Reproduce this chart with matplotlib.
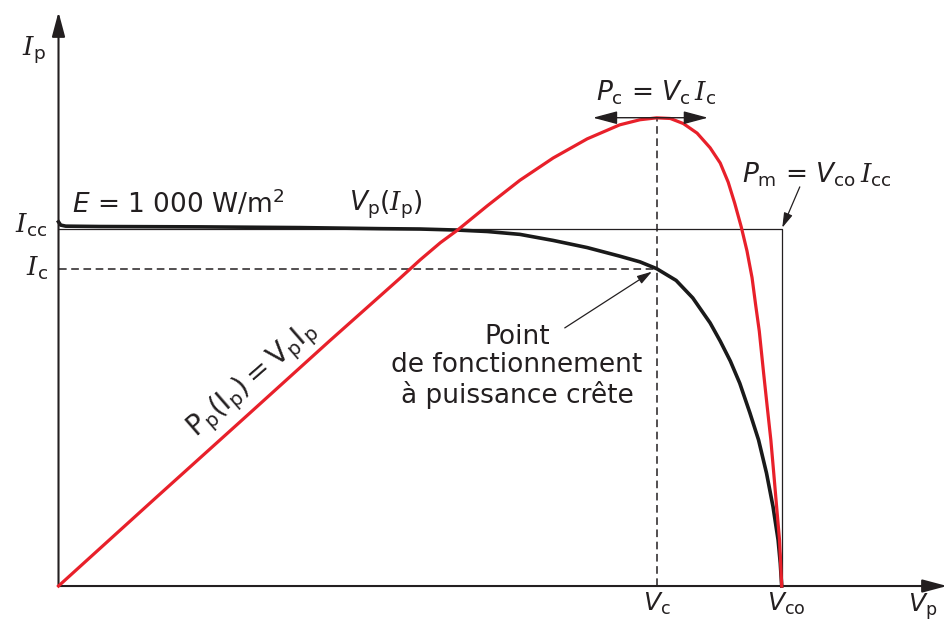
import matplotlib.pyplot as plt

plt.rcParams['font.family'] = ['DejaVu Sans']
plt.rcParams['mathtext.fontset'] = 'custom'
plt.rcParams['mathtext.rm'] = 'DejaVu Sans'
plt.rcParams['mathtext.it'] = 'DejaVu Sans:italic'
plt.rcParams['mathtext.cal'] = 'DejaVu Serif:italic'

# caractéristique I(V), normalisée (V/Vco, I/Icc)
volt_iv = [0.0, 0.003, 0.010, 0.057, 0.196, 0.334, 0.445, 0.500, 0.552, 0.593,
           0.638, 0.684, 0.731, 0.776, 0.804, 0.827, 0.854, 0.877, 0.901, 0.915,
           0.929, 0.942, 0.956, 0.968, 0.979, 0.988, 0.995, 0.998, 1.0]
curr_iv = [1.020, 1.011, 1.008, 1.007, 1.006, 1.004, 1.001, 1.000, 0.997, 0.993,
           0.985, 0.968, 0.948, 0.924, 0.908, 0.889, 0.856, 0.807, 0.737, 0.686,
           0.630, 0.568, 0.485, 0.409, 0.316, 0.222, 0.129, 0.064, 0.0]

# puissance P = V.I, normalisée par Pm = Vco.Icc
volt_p = [0.0, 0.136, 0.265, 0.375, 0.472, 0.500, 0.528, 0.552, 0.593, 0.638,
          0.684, 0.731, 0.776, 0.804, 0.827, 0.846, 0.864, 0.883, 0.901, 0.915,
          0.926, 0.935, 0.944, 0.952, 0.959, 0.964, 0.969, 0.975, 0.980, 0.985,
          0.989, 0.993, 0.997, 1.0]
power = [0.0, 0.140, 0.272, 0.385, 0.483, 0.512, 0.539, 0.559, 0.597, 0.637,
         0.672, 0.702, 0.724, 0.732, 0.735, 0.734, 0.726, 0.711, 0.688, 0.664,
         0.634, 0.601, 0.564, 0.526, 0.484, 0.441, 0.400, 0.334, 0.281, 0.229,
         0.177, 0.124, 0.072, 0.0]

V_C, I_C = 0.827, 0.889
V_CO, I_CC = 1.0, 1.0
P_C = V_C * I_C

INK = '#231f20'
RED = '#e8202a'
FS = 19

fig = plt.figure(figsize=(9.5, 6.21), dpi=100)
ax = fig.add_axes([0, 0, 1, 1])
ax.set_xlim(-0.0809, 1.2327)
ax.set_ylim(-0.098, 1.6415)
ax.axis('off')

axp = ax.twinx()
axp.set_ylim(-0.0549, 0.920)
axp.axis('off')

# axes avec flèches
head = dict(arrowstyle='-|>,head_length=0.75,head_width=0.2', lw=1.5,
            color=INK, mutation_scale=20, shrinkA=0, shrinkB=0)
ax.annotate('', xy=(0, 1.608), xytext=(0, 0), arrowprops=head)
ax.annotate('', xy=(1.2286, 0), xytext=(0, 0), arrowprops=head)

# rectangle Pm = Vco Icc
ax.plot([0, V_CO, V_CO], [I_CC, I_CC, 0], color=INK, lw=0.9)

# repères du point de puissance crête
ax.plot([0, V_C], [I_C, I_C], color=INK, lw=1.1, ls=(0, (5, 3)))
axp.plot([V_C, V_C], [0, P_C], color=INK, lw=1.1, ls=(0, (5, 3)))

# courbes
ax.plot(volt_iv, curr_iv, color='#1a1a1a', lw=2.6, solid_joinstyle='round')
axp.plot(volt_p, power, color=RED, lw=2.3, solid_joinstyle='round')

# flèche double au sommet de P
axp.annotate('', xy=(0.898, P_C), xytext=(0.739, P_C),
             arrowprops=dict(arrowstyle='<|-|>,head_length=0.75,head_width=0.2',
                             lw=1.0, color=INK, mutation_scale=20,
                             shrinkA=0, shrinkB=0))

# flèche vers le coin du rectangle
ax.annotate('', xy=(V_CO, I_CC), xytext=(1.025, 1.118),
            arrowprops=dict(arrowstyle='-|>,head_length=0.6,head_width=0.18',
                            lw=0.9, color=INK, mutation_scale=15,
                            shrinkA=0, shrinkB=1))

# flèche vers le point de fonctionnement
ax.annotate('', xy=(V_C, I_C), xytext=(0.700, 0.723),
            arrowprops=dict(arrowstyle='-|>,head_length=0.6,head_width=0.18',
                            lw=0.9, color=INK, mutation_scale=15,
                            shrinkA=0, shrinkB=4))

# étiquettes des axes
ax.text(-0.034, 1.50, r'$\mathcal{I}_\mathrm{p}$', fontsize=FS, color=INK,
        ha='center', va='center')
ax.text(-0.016, I_CC + 0.01, r'$\mathcal{I}_\mathrm{cc}$', fontsize=FS,
        color=INK, ha='right', va='center')
ax.text(-0.014, I_C, r'$\mathcal{I}_\mathrm{c}$', fontsize=FS, color=INK,
        ha='right', va='center')
ax.text(V_C, -0.014, r'$V_\mathrm{c}$', fontsize=18, color=INK,
        ha='center', va='top')
ax.text(V_CO + 0.006, -0.014, r'$V_\mathrm{co}$', fontsize=18, color=INK,
        ha='center', va='top')
ax.text(1.195, -0.014, r'$V_\mathrm{p}$', fontsize=18, color=INK,
        ha='center', va='top')

# annotations
ax.text(0.019, 1.045, r'$E$ = 1 000 W/m$^2$', fontsize=FS, color=INK,
        ha='left', va='baseline')
ax.text(0.453, 1.053, r'$V_\mathrm{p}(\mathcal{I}_\mathrm{p})$', fontsize=FS,
        color=INK, ha='center', va='baseline')
axp.text(V_C, 0.763, r'$P_\mathrm{c}$ = $V_\mathrm{c}\,\mathcal{I}_\mathrm{c}$',
         fontsize=FS, color=INK, ha='center', va='baseline')
ax.text(0.945, 1.129,
        r'$P_\mathrm{m}$ = $V_\mathrm{co}\,\mathcal{I}_\mathrm{cc}$',
        fontsize=FS, color=INK, ha='left', va='baseline')
ax.text(0.634, 0.616, 'Point\nde fonctionnement\nà puissance crête',
        fontsize=FS, color=INK, ha='center', va='center',
        multialignment='center', linespacing=1.12)
ax.text(0.269, 0.577,
        r'$\mathrm{P_p(I_p) = V_pI_p}$',
        fontsize=20, color=INK, ha='center', va='center',
        rotation=41, rotation_mode='anchor')

fig.savefig('out.png', dpi=100)
